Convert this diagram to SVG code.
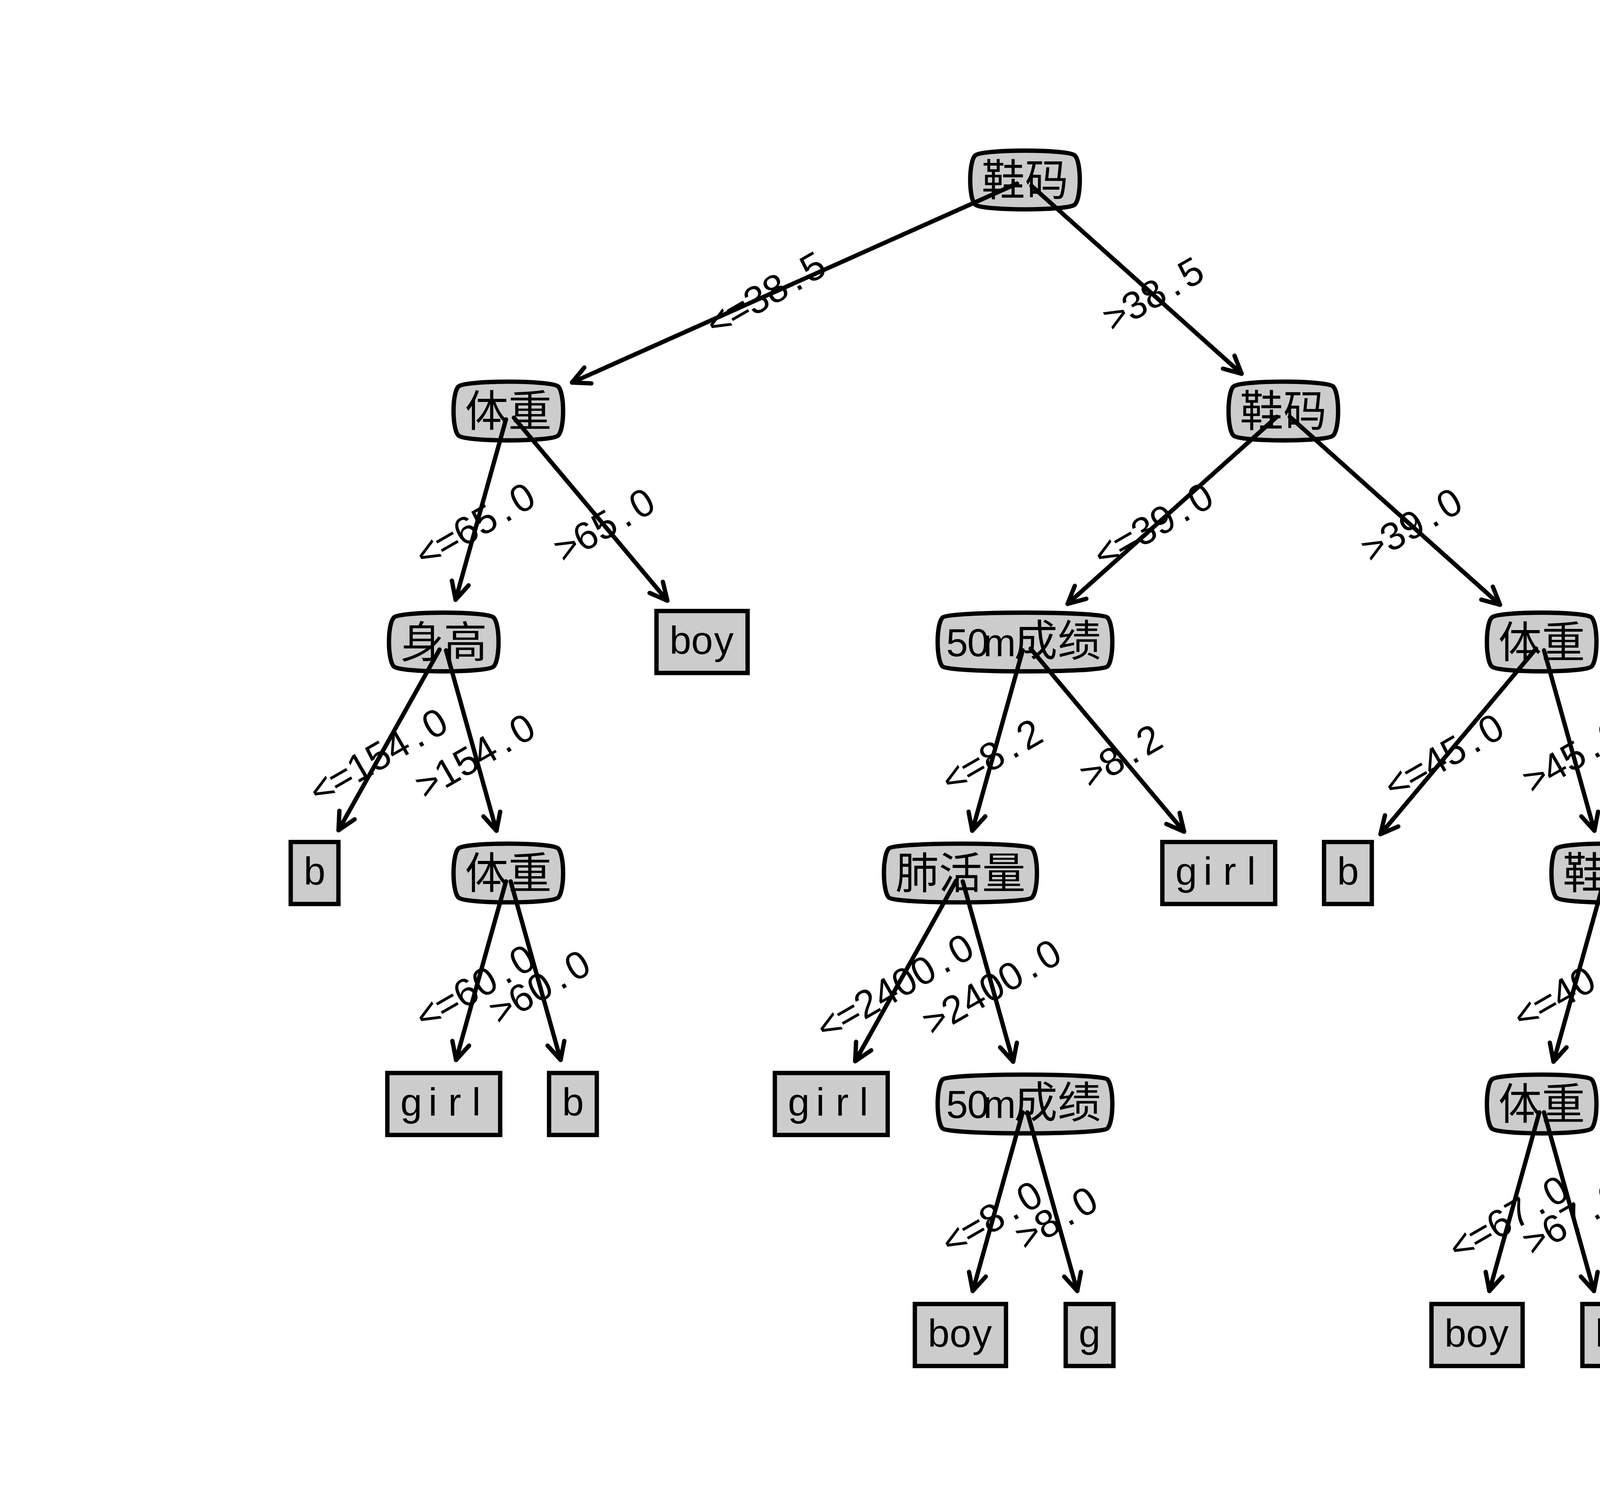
<svg xmlns="http://www.w3.org/2000/svg" xmlns:xlink="http://www.w3.org/1999/xlink" width="5120" height="3840" viewBox="0 0 5120 3840">
<style>
.box{fill:#cccccc;stroke:#000;stroke-width:11.1;stroke-linejoin:round}
.leaf{fill:#cccccc;stroke:#000;stroke-width:11.1;stroke-linejoin:miter}
.cj{font-family:"Noto Sans CJK SC","Noto Sans CJK JP",sans-serif;font-size:111px;fill:#000;text-anchor:middle}
.a{font-family:"Liberation Sans",Arial,sans-serif;font-size:100px}
.as{font-family:"Liberation Sans",Arial,sans-serif;font-size:100px;fill:#000;text-anchor:middle}
.edge{stroke:#000;stroke-width:11.1;stroke-linecap:round;fill:none;marker-end:url(#ah)}
</style>
<defs>
<marker id="ah" markerUnits="userSpaceOnUse" viewBox="-60 -40 80 80" markerWidth="80" markerHeight="80" refX="0" refY="0" orient="auto" overflow="visible">
<path d="M-44.4,-22.2 L0,0 L-44.4,22.2" fill="none" stroke="#000" stroke-width="11.1" stroke-linecap="round" stroke-linejoin="round"/>
</marker>
<path id="r2" class="box" d="M-127.77,-62.67 C-111.1,-79.33 111.1,-79.33 127.77,-62.67 C144.43,-46 144.43,46 127.77,62.67 C111.1,79.33 -111.1,79.33 -127.77,62.67 C-144.43,46 -144.43,-46 -127.77,-62.67 Z"/>
<path id="r3" class="box" d="M-183.33,-62.67 C-166.67,-79.33 166.67,-79.33 183.33,-62.67 C200,-46 200,46 183.33,62.67 C166.67,79.33 -166.67,79.33 -183.33,62.67 C-200,46 -200,-46 -183.33,-62.67 Z"/>
<path id="r5" class="box" d="M-211.11,-62.67 C-194.44,-79.33 194.44,-79.33 211.11,-62.67 C227.78,-46 227.78,46 211.11,62.67 C194.44,79.33 -194.44,79.33 -211.11,62.67 C-227.78,46 -227.78,-46 -211.11,-62.67 Z"/>
</defs>
<rect x="0" y="0" width="5120" height="3840" fill="#fff"/>
<g id="nodes">
<g id="n0" transform="translate(2624,460.8)"><use xlink:href="#r2" href="#r2"/><text class="cj" y="40">鞋码</text></g>
<g id="n1" transform="translate(1301.3,1052.2)"><use xlink:href="#r2" href="#r2"/><text class="cj" y="40">体重</text></g>
<g id="n2" transform="translate(3285.3,1052.2)"><use xlink:href="#r2" href="#r2"/><text class="cj" y="40">鞋码</text></g>
<g id="n3" transform="translate(1136,1643.5)"><use xlink:href="#r2" href="#r2"/><text class="cj" y="40">身高</text></g>
<g id="n4" transform="translate(1797.3,1643.5)"><rect class="leaf" x="-116.7" y="-79.33" width="233.3" height="158.67"/><text class="as" x="-55.6 0 55.6" y="30">boy</text></g>
<g id="n5" transform="translate(2624,1643.5)"><use xlink:href="#r5" href="#r5"/><text class="cj" y="36"><tspan class="a" x="-174 -120 -65">50m</tspan><tspan x="27.8 138.9">成绩</tspan></text></g>
<g id="n6" transform="translate(3946.7,1643.5)"><use xlink:href="#r2" href="#r2"/><text class="cj" y="40">体重</text></g>
<g id="n7" transform="translate(805.3,2234.9)"><rect class="leaf" x="-61.1" y="-79.33" width="122.2" height="158.67"/><text class="as" x="0" y="30">b</text></g>
<g id="n8" transform="translate(1301.3,2234.9)"><use xlink:href="#r2" href="#r2"/><text class="cj" y="40">体重</text></g>
<g id="n9" transform="translate(2458.7,2234.9)"><use xlink:href="#r3" href="#r3"/><text class="cj" y="40">肺活量</text></g>
<g id="n10" transform="translate(3120,2234.9)"><rect class="leaf" x="-144.4" y="-79.33" width="288.9" height="158.67"/><text class="as" x="-83.3 -27.8 27.8 83.3" y="30">girl</text></g>
<g id="n11" transform="translate(3450.7,2234.9)"><rect class="leaf" x="-61.1" y="-79.33" width="122.2" height="158.67"/><text class="as" x="0" y="30">b</text></g>
<g id="n12" transform="translate(4112,2234.9)"><use xlink:href="#r2" href="#r2"/><text class="cj" y="40">鞋码</text></g>
<g id="n13" transform="translate(1136,2826.2)"><rect class="leaf" x="-144.4" y="-79.33" width="288.9" height="158.67"/><text class="as" x="-83.3 -27.8 27.8 83.3" y="30">girl</text></g>
<g id="n14" transform="translate(1466.7,2826.2)"><rect class="leaf" x="-61.1" y="-79.33" width="122.2" height="158.67"/><text class="as" x="0" y="30">b</text></g>
<g id="n15" transform="translate(2128,2826.2)"><rect class="leaf" x="-144.4" y="-79.33" width="288.9" height="158.67"/><text class="as" x="-83.3 -27.8 27.8 83.3" y="30">girl</text></g>
<g id="n16" transform="translate(2624,2826.2)"><use xlink:href="#r5" href="#r5"/><text class="cj" y="36"><tspan class="a" x="-174 -120 -65">50m</tspan><tspan x="27.8 138.9">成绩</tspan></text></g>
<g id="n17" transform="translate(3946.7,2826.2)"><use xlink:href="#r2" href="#r2"/><text class="cj" y="40">体重</text></g>
<g id="n18" transform="translate(4442.7,2826.2)"><rect class="leaf" x="-116.7" y="-79.33" width="233.3" height="158.67"/><text class="as" x="-55.6 0 55.6" y="30">boy</text></g>
<g id="n19" transform="translate(2458.7,3417.6)"><rect class="leaf" x="-116.7" y="-79.33" width="233.3" height="158.67"/><text class="as" x="-55.6 0 55.6" y="30">boy</text></g>
<g id="n20" transform="translate(2789.3,3417.6)"><rect class="leaf" x="-61.1" y="-79.33" width="122.2" height="158.67"/><text class="as" x="0" y="30">g</text></g>
<g id="n21" transform="translate(3781.3,3417.6)"><rect class="leaf" x="-116.7" y="-79.33" width="233.3" height="158.67"/><text class="as" x="-55.6 0 55.6" y="30">boy</text></g>
<g id="n22" transform="translate(4112,3417.6)"><rect class="leaf" x="-61.1" y="-79.33" width="122.2" height="158.67"/><text class="as" x="0" y="30">b</text></g>
</g>
<g id="edge-labels">
<text class="as" transform="translate(1962.7,756.5) rotate(-30)" x="-138.75 -83.25 -27.75 27.75 83.25 138.75" y="30">&lt;=38.5</text>
<text class="as" transform="translate(2954.7,756.5) rotate(-30)" x="-111 -55.5 0 55.5 111" y="30">&gt;38.5</text>
<text class="as" transform="translate(1218.7,1347.9) rotate(-30)" x="-138.75 -83.25 -27.75 27.75 83.25 138.75" y="30">&lt;=65.0</text>
<text class="as" transform="translate(1549.3,1347.9) rotate(-30)" x="-111 -55.5 0 55.5 111" y="30">&gt;65.0</text>
<text class="as" transform="translate(2954.7,1347.9) rotate(-30)" x="-138.75 -83.25 -27.75 27.75 83.25 138.75" y="30">&lt;=39.0</text>
<text class="as" transform="translate(3616,1347.9) rotate(-30)" x="-111 -55.5 0 55.5 111" y="30">&gt;39.0</text>
<text class="as" transform="translate(970.7,1939.2) rotate(-30)" x="-166.5 -111 -55.5 0 55.5 111 166.5" y="30">&lt;=154.0</text>
<text class="as" transform="translate(1218.7,1939.2) rotate(-30)" x="-138.75 -83.25 -27.75 27.75 83.25 138.75" y="30">&gt;154.0</text>
<text class="as" transform="translate(1218.7,2530.6) rotate(-30)" x="-138.75 -83.25 -27.75 27.75 83.25 138.75" y="30">&lt;=60.0</text>
<text class="as" transform="translate(1384,2530.6) rotate(-30)" x="-111 -55.5 0 55.5 111" y="30">&gt;60.0</text>
<text class="as" transform="translate(2541.3,1939.2) rotate(-30)" x="-111 -55.5 0 55.5 111" y="30">&lt;=8.2</text>
<text class="as" transform="translate(2872,1939.2) rotate(-30)" x="-83.25 -27.75 27.75 83.25" y="30">&gt;8.2</text>
<text class="as" transform="translate(2293.3,2530.6) rotate(-30)" x="-194.25 -138.75 -83.25 -27.75 27.75 83.25 138.75 194.25" y="30">&lt;=2400.0</text>
<text class="as" transform="translate(2541.3,2530.6) rotate(-30)" x="-166.5 -111 -55.5 0 55.5 111 166.5" y="30">&gt;2400.0</text>
<text class="as" transform="translate(2541.3,3121.9) rotate(-30)" x="-111 -55.5 0 55.5 111" y="30">&lt;=8.0</text>
<text class="as" transform="translate(2706.7,3121.9) rotate(-30)" x="-83.25 -27.75 27.75 83.25" y="30">&gt;8.0</text>
<text class="as" transform="translate(3698.7,1939.2) rotate(-30)" x="-138.75 -83.25 -27.75 27.75 83.25 138.75" y="30">&lt;=45.0</text>
<text class="as" transform="translate(4029.3,1939.2) rotate(-30)" x="-111 -55.5 0 55.5 111" y="30">&gt;45.0</text>
<text class="as" transform="translate(4029.3,2530.6) rotate(-30)" x="-138.75 -83.25 -27.75 27.75 83.25 138.75" y="30">&lt;=40.0</text>
<text class="as" transform="translate(4277.3,2530.6) rotate(-30)" x="-111 -55.5 0 55.5 111" y="30">&gt;40.0</text>
<text class="as" transform="translate(3864,3121.9) rotate(-30)" x="-138.75 -83.25 -27.75 27.75 83.25 138.75" y="30">&lt;=67.0</text>
<text class="as" transform="translate(4029.3,3121.9) rotate(-30)" x="-111 -55.5 0 55.5 111" y="30">&gt;67.0</text>
</g>
<g id="connectors">
<line class="edge" x1="2603.7" y1="469.9" x2="1464.3" y2="979.3"/>
<line class="edge" x1="2640.5" y1="475.6" x2="3178.6" y2="956.8"/>
<line class="edge" x1="1295.3" y1="1073.6" x2="1166.3" y2="1535.3"/>
<line class="edge" x1="1315.6" y1="1069.2" x2="1708.5" y2="1537.7"/>
<line class="edge" x1="3268.8" y1="1067" x2="2733.1" y2="1545.9"/>
<line class="edge" x1="3301.9" y1="1067" x2="3840" y2="1548.1"/>
<line class="edge" x1="1125.2" y1="1662.9" x2="866.6" y2="2125.4"/>
<line class="edge" x1="1142" y1="1664.9" x2="1271" y2="2126.7"/>
<line class="edge" x1="1295.3" y1="2256.3" x2="1167.5" y2="2713.5"/>
<line class="edge" x1="1307.3" y1="2256.3" x2="1435.2" y2="2713.5"/>
<line class="edge" x1="2618" y1="1664.9" x2="2489" y2="2126.7"/>
<line class="edge" x1="2638.3" y1="1660.5" x2="3031.3" y2="2129.1"/>
<line class="edge" x1="2447.9" y1="2254.3" x2="2189.3" y2="2716.7"/>
<line class="edge" x1="2464.7" y1="2256.3" x2="2593.7" y2="2718"/>
<line class="edge" x1="2618" y1="2847.6" x2="2490.2" y2="3304.9"/>
<line class="edge" x1="2630" y1="2847.6" x2="2757.8" y2="3304.9"/>
<line class="edge" x1="3932.4" y1="1660.5" x2="3534" y2="2135.5"/>
<line class="edge" x1="3952.7" y1="1664.9" x2="4081.7" y2="2126.7"/>
<line class="edge" x1="4106" y1="2256.3" x2="3977" y2="2718"/>
<line class="edge" x1="4122.8" y1="2254.3" x2="4381.4" y2="2716.7"/>
<line class="edge" x1="3940.7" y1="2847.6" x2="3812.8" y2="3304.9"/>
<line class="edge" x1="3952.7" y1="2847.6" x2="4080.5" y2="3304.9"/>
</g>
</svg>
